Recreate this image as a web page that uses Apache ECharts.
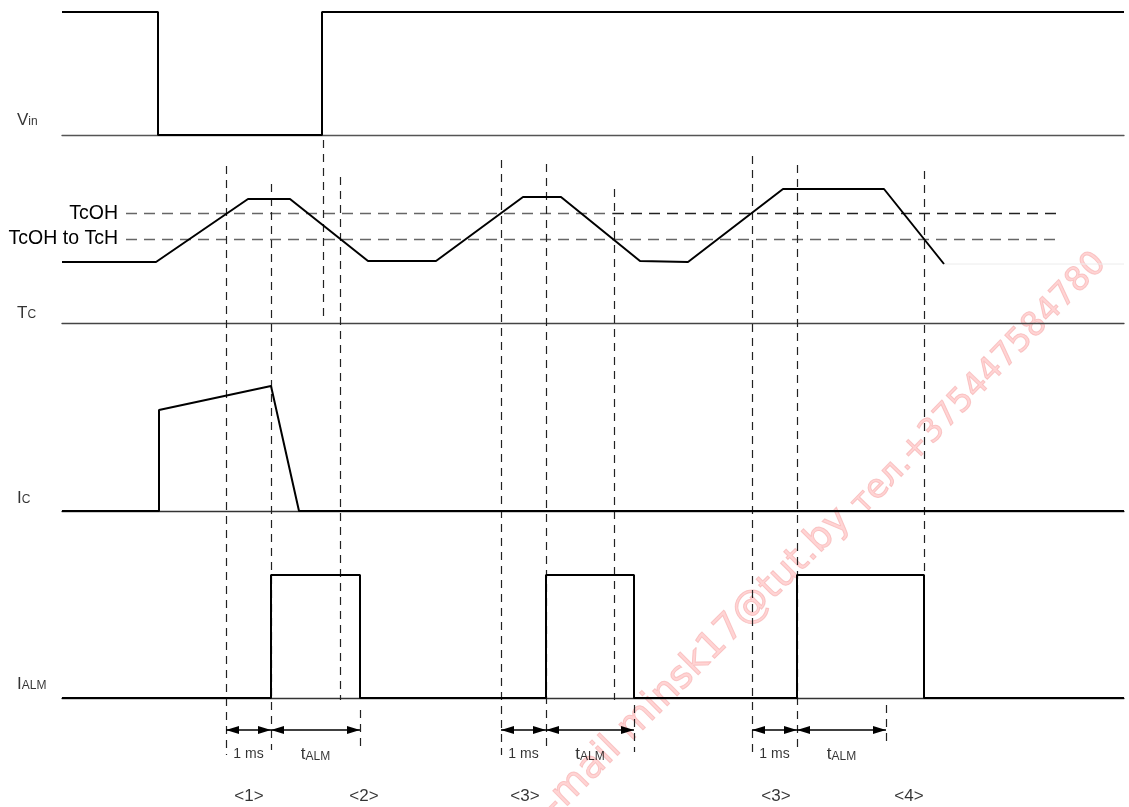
<!DOCTYPE html>
<html><head><meta charset="utf-8">
<script src="https://cdn.jsdelivr.net/npm/echarts@6/dist/echarts.min.js"></script>
<style>html,body{margin:0;padding:0;background:#fff}#c{width:1129px;height:807px}</style>
</head><body><div id="c"></div>
<script>
// ---- data (time in diagram units) ----
const timeStart = 62, timeEnd = 1124;
const vinTimes = [62,158,158,322,322,1124];
const vinLevels = [1,1,0,0,1,1];
const tcTimes = [62,156,248,290,368,436,523,561,640,688,783,884,944];
const tcLevels = [61,61,124,124,62,62,126,126,62,61,134,134,59];
const tcTailTimes = [944,1124];
const tcTailLevels = [59,59];
const thresholdNames = ['TcOH','TcOH to TcH'];
const thresholdLevels = [109.5,84];
const thresholdFrom = 126, thresholdSplit = 613, thresholdTo = 1058;
const icTimes = [62,159,159,271,299,1124];
const icLevels = [0,0,101,125,0,0];
const ialmTimes = [62,271,271,360,360,546,546,634,634,797,797,924,924,1124];
const ialmLevels = [0,0,1,1,0,0,1,1,0,0,1,1,0,0];
const markerTimes  = [226,271,323,340,360,501,546,614,634,752,797,924,886];
const markerTop    = [166,184,140,177,710,160,164,189,705,156,165,171,705];
const markerBottom = [755,750,322,700,748,755,752,700,752,755,752,575,745];
const spanStarts = [226,271,501,546,752,797];
const spanEnds   = [271,360,546,634,797,886];
const spanNames  = ['1 ms','t{s|ALM}','1 ms','t{s|ALM}','1 ms','t{s|ALM}'];
const caseNames = ['<1>','<2>','<3>','<3>','<4>'];
const caseTimes = [249,364,525,776,909];
const signalNames = ['{m|V}{s|in}','{m|T}{s|C}','{m|I}{s|C}','{m|I}{s|ALM}'];
const signalNameRows = [120,313,498,684];
const spanRow = 730, spanLabelRow = 754, caseRow = 796;
const watermarkParts = ['e-mail minsk17@tut.by', 'тел.+375447584780'];

const FONT = '"Liberation Sans", Arial, sans-serif';
const pairs = (xs, ys) => xs.map((x, i) => [x, ys[i]]);

const grids = [
  {left:62, right:5, top:12, height:123},
  {left:62, right:5, top:189, height:134},
  {left:62, right:5, top:386, height:125},
  {left:62, right:5, top:575, height:123},
  {left:0, right:0, top:0, bottom:0}
].map(g => Object.assign({outerBoundsMode:'none', containLabel:false}, g));

const axisColors = ['#555','#444','#333','#333'];
const xAxes = [0,1,2,3].map(i => ({
  gridIndex:i, type:'value', min:timeStart, max:timeEnd,
  axisLine:{show:true, onZero:true, lineStyle:{color:axisColors[i], width:1.3}},
  axisTick:{show:false}, axisLabel:{show:false}, splitLine:{show:false}
}));
xAxes.push({gridIndex:4, type:'value', min:0, max:1129, show:false});
const yMax = [1,134,125,1];
const yAxes = [0,1,2,3].map(i => ({
  gridIndex:i, type:'value', min:0, max:yMax[i], show:false
}));
yAxes.push({gridIndex:4, type:'value', min:0, max:807, inverse:true, show:false});

const sig = (i, xs, ys, extra) => Object.assign({
  type:'line', xAxisIndex:i, yAxisIndex:i, data:pairs(xs, ys),
  showSymbol:false, symbol:'none', clip:false, animation:false, silent:true,
  lineStyle:{color:'#000', width:2}, z:5
}, extra || {});

const thrLabel = {show:true, position:'start', distance:8, color:'#000', fontSize:19.5, fontFamily:FONT};
const series = [
  sig(0, vinTimes, vinLevels),
  sig(1, tcTailTimes, tcTailLevels, {lineStyle:{color:'#ececec', width:1}, z:3}),
  sig(1, tcTimes, tcLevels, {
    markLine:{
      silent:true, symbol:'none', animation:false,
      lineStyle:{type:[11,7], color:'#666', width:1.3},
      data:[
        [{coord:[thresholdFrom, thresholdLevels[0]], label:Object.assign({formatter:thresholdNames[0]}, thrLabel)},
         {coord:[thresholdSplit, thresholdLevels[0]]}],
        [{coord:[thresholdSplit, thresholdLevels[0]], label:{show:false}, lineStyle:{color:'#222', type:[11,7], width:1.3}},
         {coord:[thresholdTo, thresholdLevels[0]]}],
        [{coord:[thresholdFrom, thresholdLevels[1]], label:Object.assign({formatter:thresholdNames[1]}, thrLabel)},
         {coord:[thresholdTo, thresholdLevels[1]]}]
      ]
    }
  }),
  sig(2, icTimes, icLevels),
  sig(3, ialmTimes, ialmLevels),
  // overlay: vertical markers
  {
    type:'line', xAxisIndex:4, yAxisIndex:4, data:[[0,0]], showSymbol:false, symbol:'none',
    lineStyle:{opacity:0}, clip:false, animation:false, silent:true, z:4,
    markLine:{
      silent:true, symbol:'none', animation:false, label:{show:false},
      lineStyle:{type:[8,6], color:'#222', width:1.2},
      data: markerTimes.map((t, i) => [{coord:[t, markerTop[i]]}, {coord:[t, markerBottom[i]]}])
    }
  },
  // overlay: spans with arrows
  {
    type:'line', xAxisIndex:4, yAxisIndex:4, data:[[0,0]], showSymbol:false, symbol:'none',
    lineStyle:{opacity:0}, clip:false, animation:false, silent:true, z:6,
    markLine:{
      silent:true, symbol:['triangle','triangle'], symbolSize:[8,13], symbolOffset:[[0,6.5],[0,6.5]],
      animation:false, label:{show:false},
      lineStyle:{type:'solid', color:'#000', width:1.5},
      itemStyle:{color:'#000'},
      data: spanStarts.map((s, i) => [{coord:[s, spanRow]}, {coord:[spanEnds[i], spanRow]}])
    }
  },
  // overlay: text labels
  {
    type:'scatter', xAxisIndex:4, yAxisIndex:4, symbolSize:0, animation:false, silent:true, z:7,
    label:{show:true, color:'#000', fontFamily:FONT},
    data: [].concat(
      signalNames.map((n, i) => ({value:[17, signalNameRows[i]], label:{
        position:'right', distance:0, formatter:n,
        rich:{m:{fontSize:17, fontFamily:FONT, color:'#000', verticalAlign:'bottom'},
              s:{fontSize:12, fontFamily:FONT, color:'#000', verticalAlign:'bottom', padding:[0,0,1,0]}}
      }})),
      spanNames.map((n, i) => {
        const big = n.indexOf('{') >= 0;
        return {value:[(spanStarts[i] + spanEnds[i]) / 2, spanLabelRow], label:{
          position:'inside', formatter:n, fontSize: big ? 17 : 14,
          rich:{s:{fontSize:12, fontFamily:FONT, color:'#000', verticalAlign:'bottom'}}
        }};
      }),
      caseNames.map((n, i) => ({value:[caseTimes[i], caseRow], label:{
        position:'inside', formatter:n, fontSize:17
      }}))
    )
  }
];

const wmStyle = (text, size) => ({text:text, font:size + 'px "DejaVu Sans", sans-serif',
  fill:'rgba(255,170,170,0.5)', stroke:'rgba(225,80,80,0.28)', lineWidth:1,
  textAlign:'right', textVerticalAlign:'middle'});

const chart = echarts.init(document.getElementById('c'), null, {renderer:'canvas'});
chart.setOption({
  animation:false,
  backgroundColor:'#fff',
  grid:grids, xAxis:xAxes, yAxis:yAxes, series:series,
  graphic:[
    {type:'text', x:845, y:514, rotation:Math.PI / 4, silent:true, z:0, style:wmStyle(watermarkParts[0], 38)},
    {type:'text', x:1101, y:258, rotation:Math.PI / 4 * 1.02, silent:true, z:0, style:wmStyle(watermarkParts[1], 33)}
  ]
});
</script></body></html>
